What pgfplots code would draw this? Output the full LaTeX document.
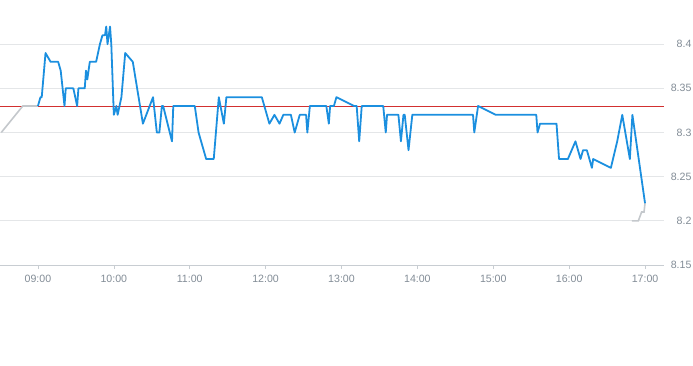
\documentclass[border=0pt]{standalone}
\usepackage{fontspec}
\setmainfont{Liberation Sans}
\usepackage{pgfplots}
\pgfplotsset{compat=1.18}
\definecolor{lineblue}{RGB}{27,143,223}
\definecolor{pregray}{RGB}{196,200,204}
\definecolor{refred}{RGB}{210,48,48}
\definecolor{gridgray}{RGB}{228,230,232}
\definecolor{axgray}{RGB}{200,205,210}
\definecolor{labgray}{RGB}{130,140,150}
\begin{document}
\begin{tikzpicture}
\useasboundingbox (0pt,-100pt) rectangle (693pt,265pt);
\begin{axis}[
  scale only axis,
  width=664pt, height=265pt,
  xmin=-30, xmax=495,
  ymin=8.15, ymax=8.45,
  axis x line*=bottom,
  axis y line*=right,
  x axis line style={draw=axgray, line width=0.8pt},
  y axis line style={draw=none},
  xtick={0,60,120,180,240,300,360,420,480},
  xticklabels={09:00,10:00,11:00,12:00,13:00,14:00,15:00,16:00,17:00},
  xtick align=outside,
  major tick length=4pt,
  xtick style={draw=axgray, line width=0.6pt},
  ytick={8.15,8.2,8.25,8.3,8.35,8.4},
  yticklabels={8.15,8.2,8.25,8.3,8.35,8.4},
  ytick style={draw=none},
  ymajorgrids,
  grid style={draw=gridgray, line width=0.7pt},
  tick label style={font=\fontsize{10.6}{12}\selectfont, text=labgray},
  yticklabel style={anchor=east, xshift=31pt},
  xticklabel style={yshift=-3pt},
  /pgf/number format/assume math mode=true,
  clip=false,
]
\addplot[refred, line width=0.8pt] coordinates {(-30,8.33) (495,8.33)};
\addplot[pregray, line width=1.6pt] coordinates {(-29,8.30) (-12,8.33) (0,8.33)};
\addplot[pregray, line width=1.6pt] coordinates {(469.5,8.20) (474.7,8.20) (477.3,8.21) (479.2,8.21) (480,8.22)};
\addplot[lineblue, line width=1.8pt, line join=round] coordinates {
(0,8.33) (2,8.34) (3,8.34) (6,8.39) (10,8.38) (16,8.38) (18,8.37) (21,8.33) (22,8.35) (28,8.35)
(31,8.33) (32,8.35) (37,8.35) (38,8.37) (39,8.36) (41,8.38) (46,8.38) (49,8.40) (51,8.41) (53,8.41)
(54,8.42) (55,8.40) (57,8.42) (58,8.40) (60,8.32) (62,8.33) (63,8.32) (66,8.34) (69,8.39) (75,8.38)
(83,8.31) (91,8.34) (94,8.30) (96,8.30) (98,8.33) (99,8.33) (106,8.29) (107,8.33) (124,8.33) (127,8.30)
(133,8.27) (139,8.27) (143,8.34) (147,8.31) (149,8.34) (177,8.34) (183,8.31) (187,8.32) (191,8.31) (194,8.32)
(200,8.32) (203,8.30) (207,8.32) (212,8.32) (213,8.30) (215,8.33) (228,8.33) (230,8.31) (231,8.33) (234,8.33)
(236,8.34) (250,8.33) (252,8.33) (254,8.29) (256,8.33) (273,8.33) (275,8.30) (276,8.32) (285,8.32) (287,8.29)
(289,8.32) (290,8.32) (293,8.28) (296,8.32) (344,8.32) (345,8.30) (348,8.33) (362,8.32) (394,8.32) (395,8.30)
(397,8.31) (410,8.31) (412,8.27) (419,8.27) (425,8.29) (429,8.27) (431,8.28) (434,8.28) (438,8.26) (439,8.27)
(453,8.26) (458,8.29) (462,8.32) (468,8.27) (470,8.32) (480,8.22)
};
\end{axis}
\end{tikzpicture}
\end{document}
